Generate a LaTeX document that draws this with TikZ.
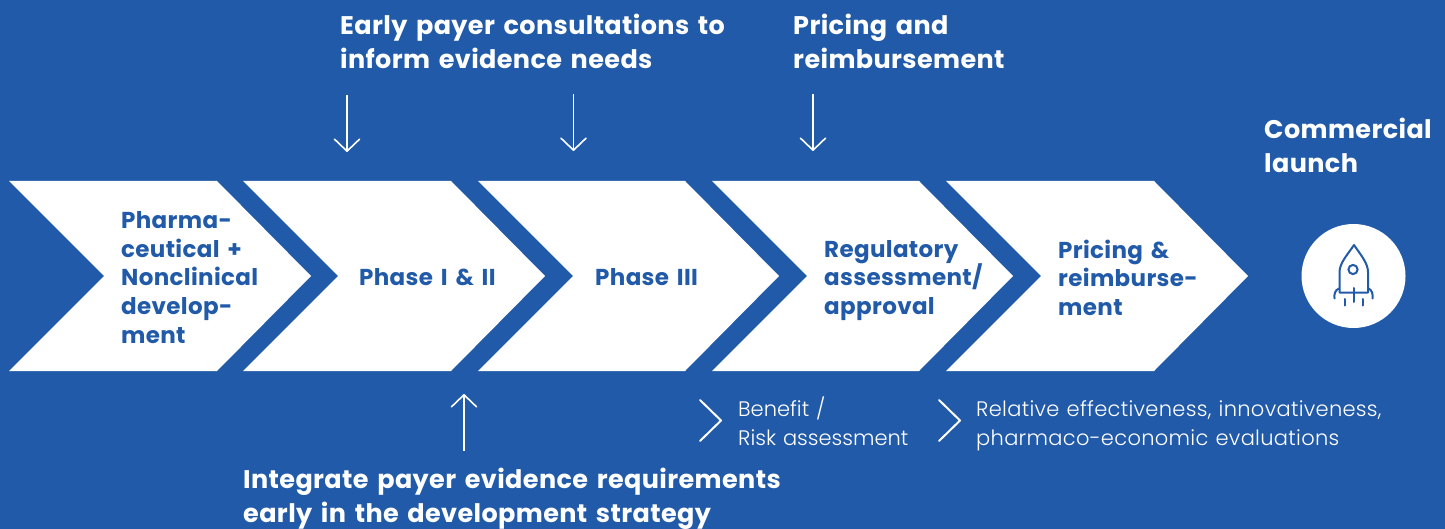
\documentclass[tikz,border=0pt]{standalone}
\usepackage{fontspec}
\setmainfont{Poppins}[LetterSpace=1.5,WordSpace=1.5]
\newfontfamily\lightf{Poppins}[UprightFont=* Light,LetterSpace=1.4,WordSpace=1.2]
\newfontfamily\lighttf{Poppins}[UprightFont=* Light,WordSpace=1.2]
\usetikzlibrary{arrows.meta}
\definecolor{bg}{HTML}{215AA8}
\tikzset{
  x=1pt,y=-1pt,
  chev/.style={fill=white,draw=none},
  head/.style={text=white,font=\bfseries\fontsize{25.5}{34}\selectfont,align=left,anchor=west,inner sep=0pt},
  label/.style={text=bg,font=\bfseries\fontsize{23}{28.6}\selectfont,align=left,anchor=west,inner sep=0pt},
  note/.style={text=white,font=\lightf\fontsize{21}{28.6}\selectfont,align=left,anchor=west,inner sep=0pt},
  notetight/.style={text=white,font=\lighttf\fontsize{21}{28.6}\selectfont,align=left,anchor=west,inner sep=0pt},
  arr/.style={white,line width=1.6pt,-{Straight Barb[length=12pt,width=25pt,round,line width=1.6pt]}},
  tick/.style={white,line width=2pt,line cap=round,line join=round},
  ico/.style={bg,line width=2pt,line cap=round,line join=round},
}
\begin{document}
\begin{tikzpicture}
\fill[bg] (0,0) rectangle (1445,529);
\useasboundingbox (0,0) rectangle (1445,529);
\fill[chev] (9,181) -- (217,181) -- (311,276) -- (217,371) -- (9,371) -- (104,276) -- cycle;
\fill[chev] (243,181) -- (451,181) -- (545,276) -- (451,371) -- (243,371) -- (338,276) -- cycle;
\fill[chev] (478,181) -- (685,181) -- (779,276) -- (685,371) -- (478,371) -- (573,276) -- cycle;
\fill[chev] (712,181) -- (919,181) -- (1013,276) -- (919,371) -- (712,371) -- (807,276) -- cycle;
\fill[chev] (946,181) -- (1154,181) -- (1248,276) -- (1154,371) -- (946,371) -- (1041,276) -- cycle;

\node[label] (l1) at (121,277.5) {Pharma-\\ceutical +\\Nonclinical\\develop-\\ment};
\node[label] (l2) at (359,277.5) {Phase I \& II};
\node[label] (l3) at (595,277.5) {Phase III};
\node[label] (l4) at (824,280.5) {Regulatory\\assessment/\\approval};
\node[label] (l5) at (1058,277.5) {Pricing \&\\reimburse-\\ment};

\node[head] (h1) at (340,41) {Early payer consultations to\\inform evidence needs};
\node[head] (h2) at (793,41) {Pricing and\\reimbursement};
\node[head] (h3) at (1264,145) {Commercial\\launch};
\node[head] (h4) at (243,499) {Integrate payer evidence requirements\\early in the development strategy};

\node[notetight] (n1) at (738,421) {Benefit /\\Risk assessment};
\node[note] (n2) at (976,426) {Relative effectiveness, innovativeness,\\pharmaco-economic evaluations};

\coordinate (a1s) at (347,95); \coordinate (a1e) at (347,152);
\coordinate (a2s) at (573.5,94); \coordinate (a2e) at (573.5,151);
\coordinate (a3s) at (813,94); \coordinate (a3e) at (813,151);
\coordinate (a4s) at (464,451); \coordinate (a4e) at (464,394);
\draw[arr] (a1s) -- (a1e);
\draw[arr] (a2s) -- (a2e);
\draw[arr] (a3s) -- (a3e);
\draw[arr] (a4s) -- (a4e);

\draw[tick] (700,400) -- (721,420.5) -- (700,441);
\draw[tick] (939,400) -- (960,420.5) -- (939,441);

\node[circle,fill=white,minimum size=104pt,inner sep=0pt] (launch) at (1353.5,276) {};
\draw[ico] (1339.5,292.5) -- (1339.5,272) .. controls (1339.5,263) and (1348,254) .. (1354,245) .. controls (1360,254) and (1368,263) .. (1368,272) -- (1368,292.5) -- cycle;
\draw[ico] (1353,269.5) circle (4.6pt);
\draw[ico] (1353.5,288) -- (1353.5,302);
\draw[ico] (1345,299) -- (1345,305.5);
\draw[ico] (1363,299) -- (1363,305.5);
\draw[ico] (1339,288.5) .. controls (1335,290) and (1334,294) .. (1334.5,298.5);
\draw[ico] (1368.5,288.5) .. controls (1372,290) and (1373,294) .. (1372.5,298.5);
\end{tikzpicture}
\end{document}
